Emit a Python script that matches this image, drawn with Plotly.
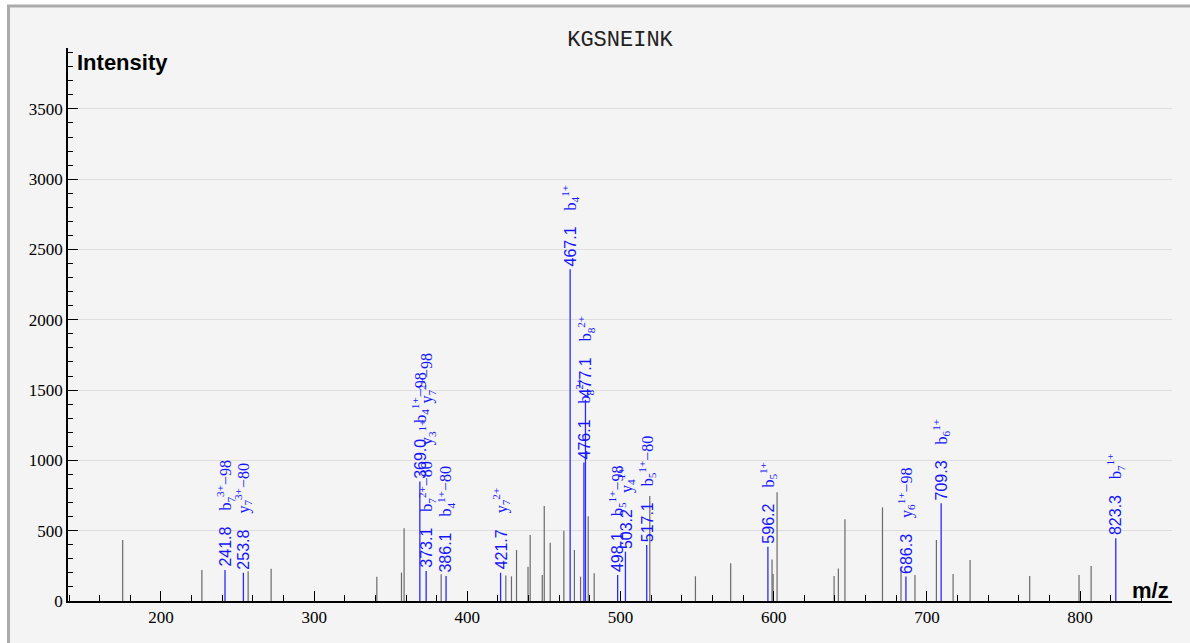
import plotly.graph_objects as go

# ---------------- data ----------------
title_text = "KGSNEINK"

# unannotated peaks (m/z, intensity)
gray_mz = [175.0, 226.7, 256.9, 271.9, 340.9, 357.0, 358.7, 382.9, 425.1, 428.8,
           432.1, 439.6, 441.0, 448.9, 450.2, 454.1, 463.0, 469.9, 473.9, 478.9,
           482.8, 519.1, 548.9, 571.9, 598.9, 599.6, 602.2, 639.4, 642.2, 646.5,
           671.0, 683.1, 692.2, 706.2, 717.1, 728.2, 767.1, 799.3, 807.2]
gray_int = [434, 220, 211, 229, 173, 202, 517, 191, 182, 175,
            363, 244, 469, 185, 676, 415, 500, 363, 173, 602,
            197, 747, 176, 268, 296, 192, 773, 178, 232, 581,
            666, 232, 185, 434, 192, 292, 178, 185, 249]

# annotated (matched) peaks
ion_mz = [241.8, 253.8, 369.0, 373.1, 386.1, 421.7, 467.1, 476.1, 477.1,
          498.1, 503.2, 517.1, 596.2, 686.3, 709.3, 823.3]
ion_int = [220, 201, 850, 213, 178, 201, 2359, 985, 1430,
           185, 351, 398, 386, 174, 695, 446]
ion_labels = [
    ["b<sub>7</sub><sup>3+</sup>\u221298"],
    ["y<sub>7</sub><sup>3+</sup>\u221280"],
    ["b<sub>4</sub><sup>1+</sup>\u221298"],
    ["b<sub>7</sub><sup>2+</sup>\u221280", "y<sub>3</sub><sup>1+</sup>", "y<sub>7</sub><sup>2+</sup>\u221298"],
    ["b<sub>4</sub><sup>1+</sup>\u221280"],
    ["y<sub>7</sub><sup>2+</sup>"],
    ["b<sub>4</sub><sup>1+</sup>"],
    ["b<sub>8</sub><sup>2+</sup>"],
    ["b<sub>8</sub><sup>2+</sup>"],
    ["b<sub>5</sub><sup>1+</sup>\u221298"],
    ["y<sub>4</sub><sup>1+</sup>"],
    ["b<sub>5</sub><sup>1+</sup>\u221280"],
    ["b<sub>5</sub><sup>1+</sup>"],
    ["y<sub>6</sub><sup>1+</sup>\u221298"],
    ["b<sub>6</sub><sup>1+</sup>"],
    ["b<sub>7</sub><sup>1+</sup>"],
]

x_range = [139.3, 860.0]
y_range = [0, 3933]

# ---------------- figure ----------------
W, H = 1190, 643
ML, MR, MT, MB = 68, 18, 48, 42
pw, ph = W - ML - MR, H - MT - MB

def stems(mzs, ints):
    xs, ys = [], []
    for m, i in zip(mzs, ints):
        xs += [m, m, None]
        ys += [0, i, None]
    return xs, ys

gx, gy = stems(gray_mz, gray_int)
bx, by = stems(ion_mz, ion_int)

fig = go.Figure()
fig.add_trace(go.Scatter(x=gx, y=gy, mode="lines",
                         line=dict(color="#6a6a6a", width=1.2),
                         hoverinfo="skip", showlegend=False))
fig.add_trace(go.Scatter(x=bx, y=by, mode="lines",
                         line=dict(color="#2a2aff", width=1.3),
                         hoverinfo="skip", showlegend=False))

NB = "\u00a0"
annotations = []
for m, i, labs in zip(ion_mz, ion_int, ion_labels):
    txt = (f'<span style="font-family:\'Liberation Sans\'">{m:.1f}</span>'
           + NB * 4 + (NB * 4).join(labs))
    annotations.append(dict(
        x=m, y=i, xref="x", yref="y", text=txt, textangle=-90,
        showarrow=False, xanchor="center", yanchor="bottom", yshift=1,
        font=dict(family="Liberation Serif", size=16, color="#1515ff")))

annotations.append(dict(x=(75 - ML) / pw, y=1 - (63 - MT) / ph, xref="paper", yref="paper",
                        text="<b>Intensity</b>", showarrow=False, xanchor="left", yanchor="middle",
                        font=dict(family="Liberation Sans", size=22, color="black")))
annotations.append(dict(x=(1171 - ML) / pw, y=(601 - 590) / ph, xref="paper", yref="paper",
                        text="<b>m/z</b>", showarrow=False, xanchor="right", yanchor="middle",
                        font=dict(family="Liberation Sans", size=22, color="black")))

fig.update_layout(
    width=W, height=H,
    margin=dict(l=ML, r=MR, t=MT, b=MB),
    paper_bgcolor="white",
    plot_bgcolor="#f4f4f4",
    title=dict(text=title_text, x=(ML + pw / 2) / W, xanchor="center",
               y=1 - 38 / H, yanchor="middle", yref="container",
               font=dict(family="Liberation Mono", size=22, color="#222222")),
    annotations=annotations,
    shapes=[dict(type="rect", xref="paper", yref="paper",
                 x0=(8.5 - ML) / pw, x1=(1210 - ML) / pw,
                 y0=-(670 - (H - MB)) / ph, y1=1 + (MT - 6) / ph,
                 line=dict(color="#ababab", width=3), fillcolor="#f4f4f4", layer="below")],
    xaxis=dict(range=x_range, tick0=0, dtick=100, ticks="inside", ticklen=10,
               tickcolor="black", tickwidth=1, showgrid=False, zeroline=False,
               showline=True, linecolor="black", linewidth=1.5,
               tickfont=dict(family="Liberation Serif", size=17, color="black"),
               minor=dict(dtick=20, tick0=0, ticks="inside", ticklen=6, tickcolor="black",
                          showgrid=False),
               fixedrange=True),
    yaxis=dict(range=y_range, tick0=0, dtick=500, ticks="inside", ticklen=10,
               tickcolor="black", tickwidth=1, showgrid=True, gridcolor="#dedede",
               gridwidth=1, zeroline=False, showline=True, linecolor="black", linewidth=1.5,
               tickfont=dict(family="Liberation Serif", size=17, color="black"),
               minor=dict(dtick=100, tick0=0, ticks="inside", ticklen=5, tickcolor="black",
                          showgrid=False),
               fixedrange=True),
)

fig.write_html("out.html", config={"displayModeBar": False},
               post_script="document.body.style.margin='0';document.body.style.overflow='hidden';")
